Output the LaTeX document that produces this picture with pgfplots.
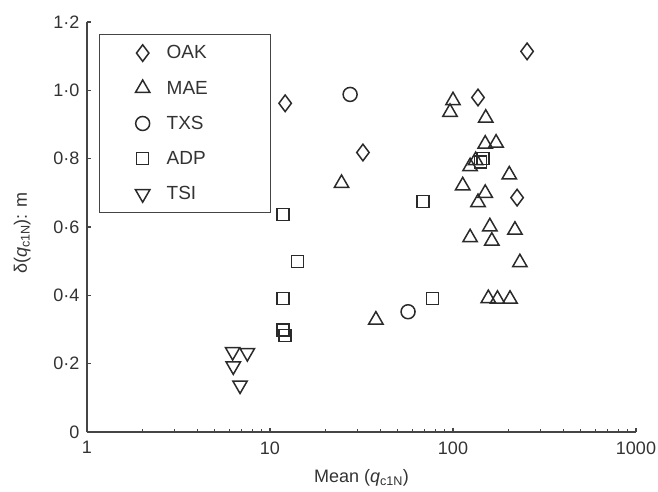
\documentclass[border=0pt]{standalone}
\usepackage{fontspec}
\setmainfont{Liberation Sans}
\usepackage{pgfplots}
\pgfplotsset{compat=1.18}
\definecolor{mk}{HTML}{2A2A2A}
\definecolor{ax}{HTML}{454545}
\definecolor{tx}{HTML}{333333}
\begin{document}
\begin{tikzpicture}
\useasboundingbox (-87pt,-60pt) rectangle (571pt,432pt);
\begin{axis}[
  at={(0pt,0pt)}, anchor=south west,
  scale only axis, width=549pt, height=410pt,
  xmode=log, xmin=1, xmax=1000, ymin=0, ymax=1.2,
  axis lines=left,
  axis line style={-, ax, line width=1.2pt},
  xtick={1,10,100,1000}, xticklabels={1,10,100,1000},
  minor xtick={2,3,4,5,6,7,8,9,20,30,40,50,60,70,80,90,200,300,400,500,600,700,800,900},
  ytick={0,0.2,0.4,0.6,0.8,1.0,1.2},
  yticklabels={0,0·2,0·4,0·6,0·8,1·0,1·2},
  tick align=inside, major tick length=4.5pt, minor tick length=3pt,
  tick style={ax, line width=1.1pt},
  ticklabel style={font=\fontsize{18}{21}\selectfont, text=tx},
  xticklabel style={yshift=-6pt},
  yticklabel style={xshift=-4pt},
  xlabel={Mean (\textit{q}\textsubscript{c1N})},
  ylabel={δ(\textit{q}\textsubscript{c1N}): m},
  label style={font=\fontsize{18}{21}\selectfont, text=tx},
  xlabel style={at={(axis description cs:0.5,-0.112)}, anchor=center},
  ylabel style={at={(axis description cs:-0.118,0.485)}, anchor=center, rotate=0},
  every axis plot/.append style={only marks, line width=1.5pt, draw=mk},
  legend style={at={(axis description cs:0.022,0.971)}, anchor=north west,
    draw=ax, line width=1.2pt, inner xsep=0pt, inner ysep=1pt,
    row sep=0pt, column sep=0pt, cells={anchor=west},
    nodes={inner sep=0pt, text width=104pt, align=left, font=\fontsize{19}{21}\selectfont, text=tx}},
  legend image code/.code={\path[draw=none,fill=none] (-43pt,-17.6pt) rectangle (24pt,17.6pt);
    \draw[#1] plot coordinates {(0pt,0pt)};},
]
\addplot[mark=diamond, mark size=8.3pt, mark options={draw=mk}] coordinates {
 (254,1.114) (12.1,0.962) (137,0.979) (32.2,0.818) (224,0.686)};
\addlegendentry{OAK}
\addplot[mark=triangle, mark size=8.3pt, mark options={draw=mk}] coordinates {
 (100,0.970) (96.3,0.936) (151,0.919) (150,0.843) (172,0.846) (124,0.777)
 (133,0.795) (203,0.753) (113,0.721) (150,0.699) (137,0.672) (24.6,0.728)
 (159,0.601) (218,0.591) (124,0.569) (163,0.559) (232,0.496) (156,0.391)
 (175,0.389) (205,0.389) (37.9,0.328)};
\addlegendentry{MAE}
\addplot[mark=o, mark size=7pt, mark options={draw=mk}] coordinates {
 (27.4,0.988) (56.8,0.352)};
\addlegendentry{TXS}
\addplot[mark=square, mark size=6pt, mark options={draw=mk}] coordinates {
 (11.8,0.636) (14.1,0.499) (11.8,0.390) (11.8,0.299) (12.1,0.282)
 (77.4,0.390) (68.6,0.675) (146,0.800) (141,0.790)};
\addlegendentry{ADP}
\addplot[mark=triangle, mark size=8.3pt, mark options={draw=mk, rotate=180}] coordinates {
 (6.25,0.235) (7.52,0.232) (6.3,0.193) (6.86,0.137)};
\addlegendentry{TSI}
\end{axis}
\end{tikzpicture}
\end{document}
